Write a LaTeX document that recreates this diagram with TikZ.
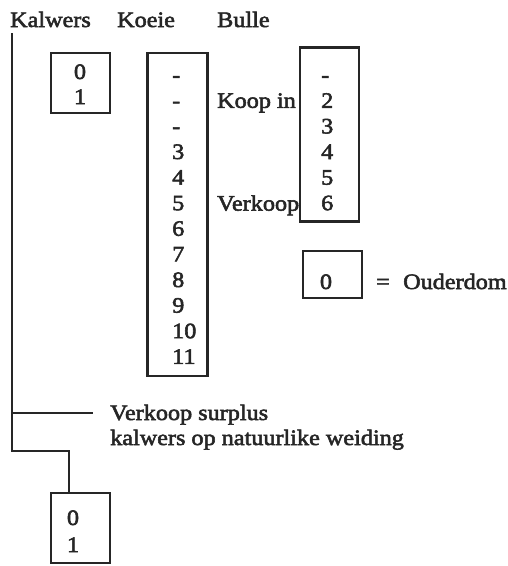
\documentclass[tikz,border=0pt]{standalone}
\usepackage{fontspec}
\setmainfont[FakeStretch=1.10,FakeBold=2.5]{Liberation Serif}
\begin{document}
\begin{tikzpicture}[x=1pt,y=-1pt,
  bx/.style={draw=black!85,line width=2.3pt,rectangle,inner sep=0pt,outer sep=0pt},
  ln/.style={draw=black!85,line width=2.1pt},
  tx/.style={inner sep=0pt,anchor=base west,text=black!85,font=\fontsize{22}{25}\selectfont}]
\useasboundingbox (0,0) rectangle (507,566);
% titles
\node[tx] (tkal) at (10,27) {Kalwers};
\node[tx] (tkoe) at (117,27) {Koeie};
\node[tx] (tbul) at (217,27) {Bulle};
% Kalwers box
\node[bx,minimum width=59pt,minimum height=60pt] (kbox) at (80.5,83) {};
\node[tx,anchor=base] (k0) at (80,79) {0};
\node[tx,anchor=base] (k1) at (80,104) {1};
% Koeie box
\node[bx,minimum width=60pt,minimum height=323pt] (cbox) at (177.5,214.5) {};
\foreach \t [count=\i from 0] in {-,-,-,3,4,5,6,7,8,9,10,11}{
  \node[tx] (c\i) at (172,82.2+25.6*\i) {\t};
}
% Bulle box
\node[bx,minimum width=59pt,minimum height=174pt] (bubox) at (329.5,134.5) {};
\foreach \t [count=\i from 0] in {-,2,3,4,5,6}{
  \node[tx] (b\i) at (321,82.2+25.6*\i) {\t};
}
\node[tx] (koop) at (217,107.8) {Koop in};
\node[tx] (verk) at (217,210.6) {Verkoop};
% legend
\node[bx,minimum width=59pt,minimum height=47pt] (lbox) at (332.5,274.5) {};
\node[tx,anchor=base] (l0) at (326,289) {0};
\node[tx,anchor=base] (leq) at (383,289) {=};
\node[tx] (lod) at (403,289) {Ouderdom};
% left line
\coordinate (ltop) at (12,33);
\coordinate (br) at (12,413);
\coordinate (bre) at (93,413);
\coordinate (bj) at (69,451);
\node[bx,minimum width=59pt,minimum height=70pt] (bbox) at (80.5,528) {};
\node[tx,anchor=base] (bb0) at (73,525) {0};
\node[tx,anchor=base] (bb1) at (73,552) {1};
\draw[ln] (ltop) |- (bj) -- (bj |- bbox.north);
\draw[ln] (br) -- (bre);
\node[tx] (vs1) at (110,420) {Verkoop surplus};
\node[tx] (vs2) at (110,445) {kalwers op natuurlike weiding};
\end{tikzpicture}
\end{document}
